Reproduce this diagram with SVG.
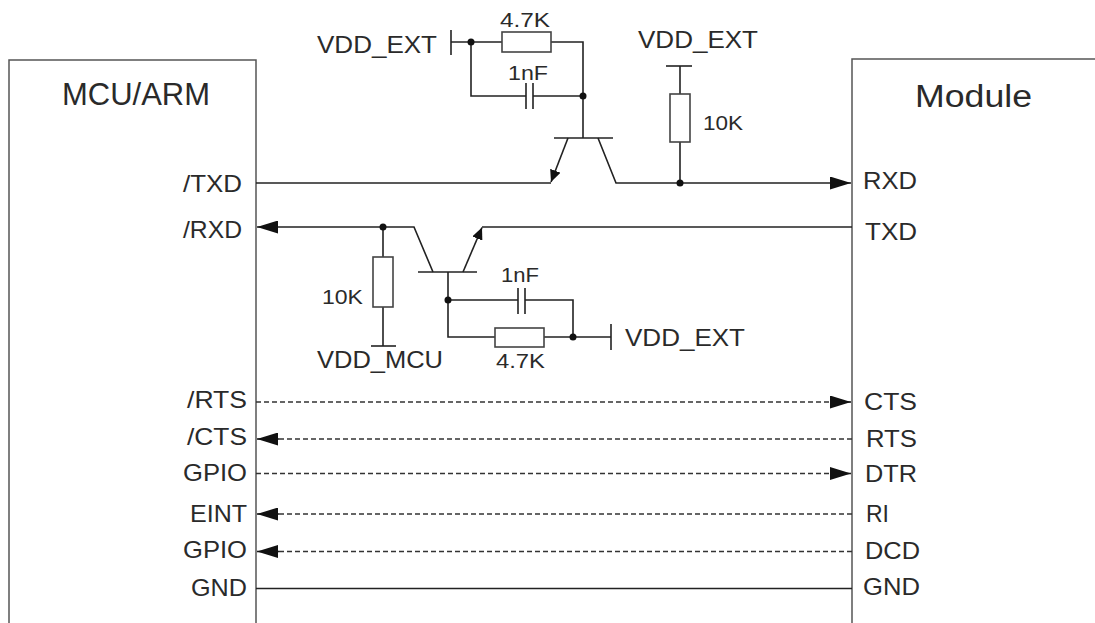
<svg xmlns="http://www.w3.org/2000/svg" width="1095" height="623" viewBox="0 0 1095 623">
<style>
  text { font-family: "Liberation Sans", Arial, sans-serif; fill: #2a2a2a; }
  .title { font-size: 31px; }
  .pin { font-size: 24px; }
  .lbl { font-size: 24px; }
  .val { font-size: 21px; }
  .box { fill: #ffffff; stroke: #555555; stroke-width: 1.5; }
  .w { fill: none; stroke: #222222; stroke-width: 1.6; }
  .d { fill: none; stroke: #333333; stroke-width: 1.4; stroke-dasharray: 5 3; }
  .r { fill: #ffffff; stroke: #444444; stroke-width: 1.6; }
  .dot { fill: #111111; }
</style>
<defs>
  <marker id="arr" markerUnits="userSpaceOnUse" markerWidth="22" markerHeight="13" refX="21" refY="6.5" orient="auto" viewBox="0 0 22 13">
    <path d="M0,0 L21,6.5 L0,13 z" fill="#111111"/>
  </marker>
  <marker id="tarr" markerUnits="userSpaceOnUse" markerWidth="13" markerHeight="11" refX="12" refY="5.5" orient="auto" viewBox="0 0 13 11">
    <path d="M0,0 L12,5.5 L0,11 z" fill="#111111"/>
  </marker>
</defs>
<rect width="1095" height="623" fill="#ffffff"/>

<g id="mcu">
  <rect class="box" x="9" y="60" width="247" height="580"/>
  <text class="title" x="136" y="105" text-anchor="middle" textLength="148" lengthAdjust="spacingAndGlyphs">MCU/ARM</text>
  <text class="pin" x="242" y="191.5" text-anchor="end" textLength="59" lengthAdjust="spacingAndGlyphs">/TXD</text>
  <text class="pin" x="242" y="237.5" text-anchor="end" textLength="59" lengthAdjust="spacingAndGlyphs">/RXD</text>
  <text class="pin" x="247" y="408" text-anchor="end" textLength="60" lengthAdjust="spacingAndGlyphs">/RTS</text>
  <text class="pin" x="247" y="445" text-anchor="end" textLength="60" lengthAdjust="spacingAndGlyphs">/CTS</text>
  <text class="pin" x="247" y="481" text-anchor="end" textLength="64" lengthAdjust="spacingAndGlyphs">GPIO</text>
  <text class="pin" x="247" y="521.5" text-anchor="end" textLength="57" lengthAdjust="spacingAndGlyphs">EINT</text>
  <text class="pin" x="247" y="558" text-anchor="end" textLength="64" lengthAdjust="spacingAndGlyphs">GPIO</text>
  <text class="pin" x="247" y="596" text-anchor="end" textLength="56" lengthAdjust="spacingAndGlyphs">GND</text>
</g>

<g id="module">
  <rect class="box" x="852" y="59" width="260" height="580"/>
  <text class="title" x="973.5" y="107" text-anchor="middle" font-size="35" textLength="117" lengthAdjust="spacingAndGlyphs">Module</text>
  <text class="pin" x="863" y="188.5" textLength="54" lengthAdjust="spacingAndGlyphs">RXD</text>
  <text class="pin" x="865" y="240" textLength="52" lengthAdjust="spacingAndGlyphs">TXD</text>
  <text class="pin" x="864" y="410" textLength="53" lengthAdjust="spacingAndGlyphs">CTS</text>
  <text class="pin" x="866" y="446.5" textLength="51" lengthAdjust="spacingAndGlyphs">RTS</text>
  <text class="pin" x="865" y="481.5" textLength="52" lengthAdjust="spacingAndGlyphs">DTR</text>
  <text class="pin" x="866" y="522" textLength="23" lengthAdjust="spacingAndGlyphs">RI</text>
  <text class="pin" x="865" y="558.5" textLength="55" lengthAdjust="spacingAndGlyphs">DCD</text>
  <text class="pin" x="863" y="595" textLength="57" lengthAdjust="spacingAndGlyphs">GND</text>
</g>

<g id="connectors">
  <path class="w" d="M256,183 H551"/>
  <path class="w" d="M598,138 L616,183 H851" marker-end="url(#arr)"/>
  <path class="w" d="M852,227 H482"/>
  <path class="w" d="M433,272 L414,227 H257" marker-end="url(#arr)"/>
  <path class="w" d="M451,42 H502 M551,42 H583 V138"/>
  <path class="w" d="M471,42 V96 H526 M533,96 H583"/>
  <path class="w" d="M680,66 V94 M680,142 V183"/>
  <path class="w" d="M383,227 V257 M383,307 V346"/>
  <path class="w" d="M448,272 V337 H495 M544,337 H611"/>
  <path class="w" d="M448,300 H518 M525,300 H573 V337"/>
  <path class="d" d="M256,402 H832"/>
  <path class="w" d="M830,402 H851" marker-end="url(#arr)"/>
  <path class="d" d="M852,439 H278"/>
  <path class="w" d="M279,439 H257" marker-end="url(#arr)"/>
  <path class="d" d="M256,473.5 H832"/>
  <path class="w" d="M830,473.5 H851" marker-end="url(#arr)"/>
  <path class="d" d="M852,514 H278"/>
  <path class="w" d="M279,514 H257" marker-end="url(#arr)"/>
  <path class="d" d="M852,551.5 H278"/>
  <path class="w" d="M279,551.5 H257" marker-end="url(#arr)"/>
  <path class="w" d="M256,588.5 H852"/>
</g>

<g id="q1">
  <path class="w" d="M554,138 H613"/>
  <path class="w" d="M568,138 L551,182" marker-end="url(#tarr)"/>
</g>
<g id="q2">
  <path class="w" d="M418,272 H477"/>
  <path class="w" d="M463,272 L482,227.5" marker-end="url(#tarr)"/>
</g>

<g id="vdd-ext-top-left">
  <path class="w" d="M451,30 V55"/>
  <text class="lbl" x="437" y="53" text-anchor="end" textLength="120" lengthAdjust="spacingAndGlyphs">VDD_EXT</text>
</g>
<g id="r-4k7-top">
  <rect class="r" x="502" y="32" width="49" height="20"/>
  <text class="val" x="525" y="26.5" text-anchor="middle" textLength="50" lengthAdjust="spacingAndGlyphs">4.7K</text>
</g>
<g id="c-1nf-top">
  <path class="w" d="M526,83 V109 M533,83 V109"/>
  <text class="val" x="528" y="80" text-anchor="middle" textLength="40" lengthAdjust="spacingAndGlyphs">1nF</text>
</g>
<g id="vdd-ext-top-right">
  <path class="w" d="M666,66 H692"/>
  <text class="lbl" x="638" y="48" textLength="120" lengthAdjust="spacingAndGlyphs">VDD_EXT</text>
</g>
<g id="r-10k-top">
  <rect class="r" x="670" y="94" width="20" height="48"/>
  <text class="val" x="703" y="130" textLength="40" lengthAdjust="spacingAndGlyphs">10K</text>
</g>
<g id="r-10k-bottom">
  <rect class="r" x="373" y="257" width="20" height="50"/>
  <text class="val" x="363" y="304" text-anchor="end" textLength="41" lengthAdjust="spacingAndGlyphs">10K</text>
</g>
<g id="vdd-mcu">
  <path class="w" d="M371,346 H396"/>
  <text class="lbl" x="317" y="368" textLength="126" lengthAdjust="spacingAndGlyphs">VDD_MCU</text>
</g>
<g id="c-1nf-bottom">
  <path class="w" d="M518,288 V314 M525,288 V314"/>
  <text class="val" x="520" y="282" text-anchor="middle" textLength="38" lengthAdjust="spacingAndGlyphs">1nF</text>
</g>
<g id="r-4k7-bottom">
  <rect class="r" x="495" y="328" width="49" height="19"/>
  <text class="val" x="520.5" y="368" text-anchor="middle" textLength="49" lengthAdjust="spacingAndGlyphs">4.7K</text>
</g>
<g id="vdd-ext-bottom">
  <path class="w" d="M611,324 V350"/>
  <text class="lbl" x="625" y="346" textLength="120" lengthAdjust="spacingAndGlyphs">VDD_EXT</text>
</g>

<g id="junctions">
  <circle class="dot" cx="471" cy="42" r="3.5"/>
  <circle class="dot" cx="583" cy="96" r="3.5"/>
  <circle class="dot" cx="680" cy="183" r="3.5"/>
  <circle class="dot" cx="383" cy="227" r="3.5"/>
  <circle class="dot" cx="448" cy="300" r="3.5"/>
  <circle class="dot" cx="573" cy="337" r="3.5"/>
</g>
</svg>
